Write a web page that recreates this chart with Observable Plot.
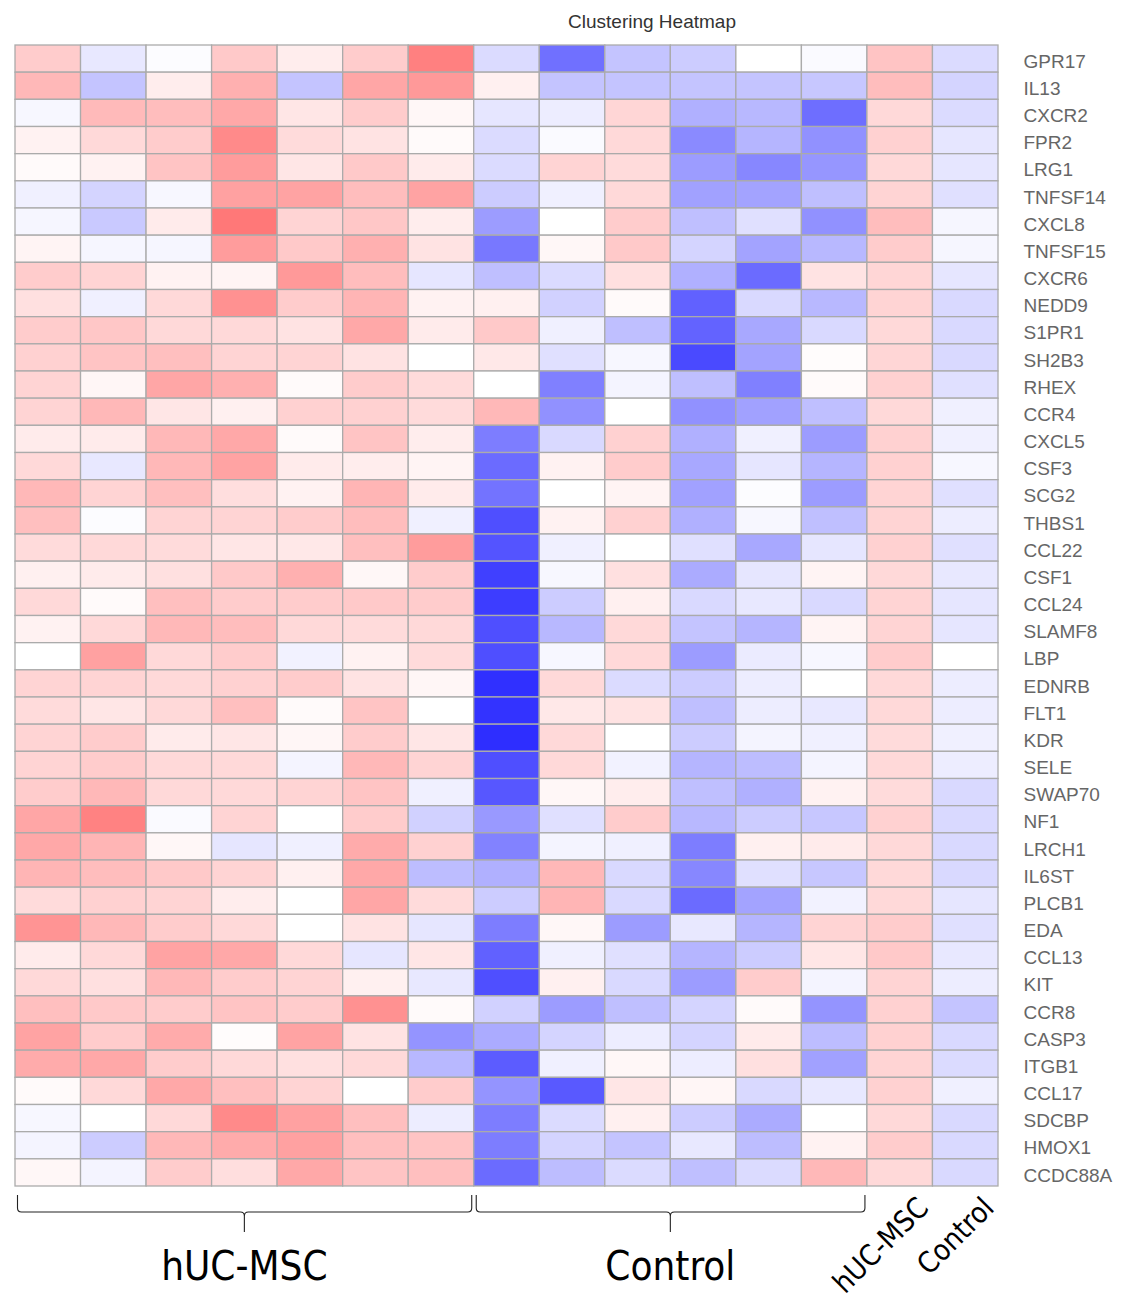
<!DOCTYPE html>
<html><head><meta charset="utf-8">
<script src="https://cdn.jsdelivr.net/npm/d3@7"></script>
<script src="https://cdn.jsdelivr.net/npm/@observablehq/plot@0.6"></script>
<style>
body{margin:0;background:#fff;font-family:"Liberation Sans",Arial,sans-serif;}
#wrap{position:relative;width:1127px;}
#title{height:40px;position:relative;}
#title span{position:absolute;left:652px;top:22px;transform:translate(-50%,-50%);font-size:19px;color:#333;white-space:nowrap;}
</style></head><body>
<div id="wrap">
<div id="title"><span>Clustering Heatmap</span></div>
<div id="chart"></div>
</div>
<script>
const columns = ["hUC-MSC 1","hUC-MSC 2","hUC-MSC 3","hUC-MSC 4","hUC-MSC 5","hUC-MSC 6","hUC-MSC 7",
  "Control 1","Control 2","Control 3","Control 4","Control 5","Control 6","hUC-MSC","Control"];
const groups = [
  {name:"hUC-MSC", from:"hUC-MSC 1", to:"hUC-MSC 7"},
  {name:"Control", from:"Control 1", to:"Control 6"}
];
const meanLabels = ["hUC-MSC","Control"];
const genes = ["GPR17","IL13","CXCR2","FPR2","LRG1","TNFSF14","CXCL8","TNFSF15","CXCR6","NEDD9","S1PR1","SH2B3","RHEX","CCR4","CXCL5","CSF3","SCG2","THBS1","CCL22","CSF1","CCL24","SLAMF8","LBP","EDNRB","FLT1","KDR","SELE","SWAP70","NF1","LRCH1","IL6ST","PLCB1","EDA","CCL13","KIT","CCR8","CASP3","ITGB1","CCL17","SDCBP","HMOX1","CCDC88A"];
// scaled expression, one row per gene, one value per column
const zscores = [
  [0.2,-0.09,-0.01,0.21,0.07,0.2,0.5,-0.14,-0.56,-0.23,-0.2,0,-0.02,0.23,-0.14],
  [0.28,-0.23,0.07,0.31,-0.23,0.35,0.4,0.06,-0.23,-0.23,-0.23,-0.23,-0.22,0.26,-0.17],
  [-0.03,0.27,0.26,0.34,0.1,0.2,0.03,-0.1,-0.07,0.16,-0.31,-0.28,-0.57,0.15,-0.14],
  [0.05,0.15,0.2,0.46,0.14,0.11,0.02,-0.14,-0.02,0.15,-0.46,-0.29,-0.43,0.18,-0.1],
  [0.02,0.05,0.23,0.39,0.1,0.21,0.08,-0.14,0.17,0.14,-0.39,-0.47,-0.41,0.15,-0.1],
  [-0.06,-0.17,-0.03,0.37,0.36,0.26,0.36,-0.2,-0.06,0.15,-0.37,-0.36,-0.25,0.17,-0.12],
  [-0.035,-0.21,0.08,0.53,0.17,0.22,0.07,-0.39,0,0.2,-0.25,-0.12,-0.43,0.26,-0.035],
  [0.045,-0.035,-0.035,0.39,0.21,0.31,0.11,-0.53,0.03,0.21,-0.17,-0.36,-0.28,0.2,-0.035],
  [0.2,0.17,0.05,0.045,0.4,0.26,-0.1,-0.25,-0.14,0.12,-0.31,-0.58,0.11,0.16,-0.1],
  [0.12,-0.06,0.15,0.43,0.2,0.29,0.05,0.06,-0.18,0.02,-0.62,-0.15,-0.28,0.17,-0.15],
  [0.2,0.22,0.15,0.15,0.11,0.34,0.08,0.21,-0.06,-0.25,-0.61,-0.34,-0.15,0.15,-0.15],
  [0.18,0.23,0.25,0.17,0.17,0.11,0,0.09,-0.12,-0.03,-0.71,-0.36,0.01,0.16,-0.15],
  [0.17,0.035,0.35,0.31,0.02,0.2,0.14,0,-0.5,-0.045,-0.25,-0.5,0.02,0.18,-0.12],
  [0.17,0.28,0.1,0.06,0.18,0.18,0.14,0.28,-0.43,0,-0.43,-0.37,-0.25,0.15,-0.06],
  [0.08,0.08,0.28,0.34,0.02,0.23,0.07,-0.51,-0.15,0.18,-0.31,-0.06,-0.39,0.18,-0.06],
  [0.15,-0.09,0.28,0.36,0.08,0.07,0.045,-0.58,0.05,0.2,-0.34,-0.1,-0.29,0.18,-0.03],
  [0.28,0.17,0.25,0.13,0.05,0.29,0.08,-0.55,0,0.045,-0.37,-0.01,-0.39,0.17,-0.12],
  [0.25,-0.01,0.17,0.17,0.2,0.26,-0.06,-0.69,0.05,0.18,-0.31,-0.03,-0.25,0.17,-0.07],
  [0.14,0.15,0.14,0.1,0.09,0.25,0.39,-0.67,-0.06,0,-0.12,-0.34,-0.1,0.18,-0.12],
  [0.06,0.08,0.12,0.21,0.31,0.03,0.2,-0.75,-0.03,0.12,-0.33,-0.1,0.045,0.15,-0.09],
  [0.15,0.02,0.25,0.2,0.2,0.21,0.2,-0.76,-0.2,0.06,-0.15,-0.09,-0.15,0.17,-0.1],
  [0.05,0.15,0.28,0.26,0.15,0.14,0.15,-0.69,-0.28,0.15,-0.23,-0.29,0.045,0.17,-0.1],
  [0,0.37,0.15,0.2,-0.05,0.05,0.14,-0.69,-0.03,0.15,-0.39,-0.08,-0.03,0.2,0],
  [0.17,0.17,0.15,0.18,0.2,0.11,0.035,-0.81,0.15,-0.14,-0.2,-0.07,0,0.15,-0.07],
  [0.14,0.1,0.15,0.25,0.02,0.23,0,-0.8,0.09,0.11,-0.25,-0.07,-0.09,0.15,-0.07],
  [0.17,0.2,0.08,0.1,0.035,0.2,0.1,-0.82,0.15,0,-0.2,-0.045,-0.06,0.14,-0.06],
  [0.17,0.2,0.15,0.15,-0.045,0.28,0.17,-0.69,0.15,-0.05,-0.29,-0.26,-0.045,0.15,-0.07],
  [0.2,0.28,0.15,0.15,0.17,0.23,-0.06,-0.66,0.03,0.07,-0.25,-0.31,0.05,0.14,-0.15],
  [0.35,0.49,-0.02,0.17,0,0.2,-0.18,-0.4,-0.12,0.2,-0.28,-0.2,-0.22,0.18,-0.15],
  [0.34,0.29,0.03,-0.1,-0.06,0.33,0.18,-0.49,-0.045,-0.06,-0.51,0.06,0.08,0.15,-0.15],
  [0.29,0.26,0.21,0.17,0.06,0.34,-0.26,-0.31,0.28,-0.15,-0.47,-0.12,-0.22,0.15,-0.15],
  [0.14,0.18,0.17,0.07,0,0.35,0.14,-0.2,0.29,-0.15,-0.58,-0.36,-0.05,0.15,-0.1],
  [0.42,0.28,0.2,0.15,0,0.11,-0.1,-0.51,0.03,-0.39,-0.09,-0.29,0.17,0.2,-0.12],
  [0.08,0.15,0.36,0.34,0.15,-0.1,0.1,-0.62,-0.06,-0.12,-0.29,-0.2,0.1,0.21,-0.09],
  [0.15,0.12,0.28,0.2,0.17,0.06,-0.09,-0.69,0.06,-0.15,-0.39,0.2,-0.045,0.17,-0.07],
  [0.25,0.21,0.2,0.23,0.2,0.43,0.02,-0.18,-0.39,-0.25,-0.17,0.02,-0.42,0.18,-0.23],
  [0.36,0.2,0.33,0.01,0.36,0.11,-0.42,-0.33,-0.17,-0.07,-0.17,0.08,-0.26,0.18,-0.15],
  [0.33,0.34,0.2,0.15,0.12,0.15,-0.28,-0.64,-0.06,0.03,-0.07,0.12,-0.37,0.17,-0.14],
  [0.02,0.15,0.34,0.25,0.17,0,0.2,-0.42,-0.65,0.1,0.035,-0.15,-0.09,0.18,-0.06],
  [-0.03,0,0.15,0.46,0.37,0.25,-0.07,-0.51,-0.14,0.06,-0.2,-0.33,0,0.15,-0.15],
  [-0.045,-0.2,0.28,0.33,0.37,0.25,0.23,-0.51,-0.17,-0.23,-0.09,-0.26,0.05,0.2,-0.15],
  [0.03,-0.045,0.2,0.13,0.34,0.23,0.25,-0.58,-0.26,-0.14,-0.25,-0.14,0.28,0.15,-0.15]
];

const cells = [];
genes.forEach((g, i) => columns.forEach((c, j) => cells.push({gene: g, column: c, value: zscores[i][j]})));

const W = 1127, H = 1276, mTop = 5, mBottom = 130, mLeft = 15, mRight = 129;
const narrow = '"Liberation Sans Narrow", "DejaVu Sans Condensed", "Liberation Sans", sans-serif';

const plot = Plot.plot({
  width: W, height: H,
  marginTop: mTop, marginBottom: mBottom, marginLeft: mLeft, marginRight: mRight,
  style: {fontFamily: '"Liberation Sans", Arial, sans-serif', background: "#fff"},
  x: {domain: columns, padding: 0, round: false, axis: null},
  y: {domain: genes, padding: 0, round: false, axis: null},
  color: {type: "linear", domain: [-1, 0, 1], range: ["#0000ff", "#ffffff", "#ff0000"], interpolate: "rgb"},
  marks: [
    Plot.cell(cells, {x: "column", y: "gene", fill: "value", stroke: "#ababab", strokeWidth: 1.3}),
    Plot.axisY({anchor: "right", tickSize: 0, tickPadding: 25, fontSize: 19, fill: "#666", label: null, dy: 2.5}),
    Plot.text(meanLabels, {x: d => d, frameAnchor: "bottom", rotate: -45, textAnchor: "end",
      dx: 30, dy: 23, fontSize: 29, fill: "#000", fontFamily: narrow})
  ]
});

document.getElementById("chart").appendChild(plot);

// group braces + labels computed from the x scale
const xs = plot.scale("x");
const bw = xs.bandwidth;
const bottom = H - mBottom;
const svg = d3.select(plot);
const g = svg.append("g");
groups.forEach(gr => {
  const x0 = xs.apply(gr.from) + 2.5;
  const x1 = xs.apply(gr.to) + bw - 2;
  const xm = (xs.apply(gr.from) + xs.apply(gr.to) + bw) / 2;
  const y0 = bottom + 9, y1 = bottom + 26, y2 = bottom + 46, r = 4;
  const p = `M${x0},${y0} L${x0},${y1 - r} Q${x0},${y1} ${x0 + r},${y1} L${xm - r},${y1} Q${xm},${y1} ${xm},${y1 + r} L${xm},${y2} M${xm},${y1 + r} Q${xm},${y1} ${xm + r},${y1} L${x1 - r},${y1} Q${x1},${y1} ${x1},${y1 - r} L${x1},${y0}`;
  g.append("path").attr("d", p).attr("fill", "none").attr("stroke", "#222").attr("stroke-width", 1.1);
  g.append("text").attr("x", xm).attr("y", bottom + 94).attr("text-anchor", "middle")
    .attr("font-size", 40).attr("fill", "#000").attr("font-family", narrow)
    .text(gr.name);
});
</script>
</body></html>
